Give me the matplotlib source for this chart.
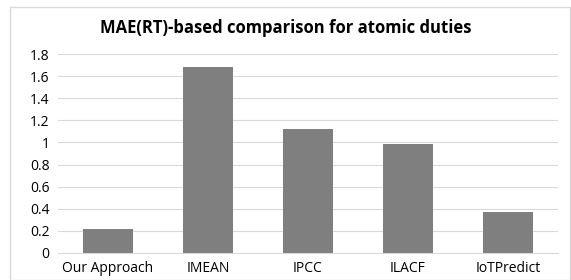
import matplotlib.pyplot as plt
from matplotlib.patches import Rectangle

methods = ['Our Approach', 'IMEAN', 'IPCC', 'ILACF', 'IoTPredict']
mae_rt = [0.22, 1.68, 1.12, 0.99, 0.37]
yticks = [0, 0.2, 0.4, 0.6, 0.8, 1, 1.2, 1.4, 1.6, 1.8]
ytick_labels = ['0', '0.2', '0.4', '0.6', '0.8', '1', '1.2', '1.4', '1.6', '1.8']

plt.rcParams['font.family'] = ['Open Sans', 'DejaVu Sans']

fig = plt.figure(figsize=(5.71, 2.8), dpi=100)
ax = fig.add_axes([58 / 571, 1 - 253 / 280, 500 / 571, 199 / 280])

x = range(len(methods))
ax.bar(x, mae_rt, width=0.5, color='#7f7f7f', zorder=3)
ax.set_xlim(-0.5, len(methods) - 0.5)
ax.set_ylim(0, 1.8)
ax.set_yticks(yticks)
ax.set_yticklabels(ytick_labels, fontsize=10)
ax.set_xticks(list(x))
ax.set_xticklabels(methods, fontsize=10)
ax.grid(axis='y', color='#d9d9d9', linewidth=0.8, zorder=0)
ax.tick_params(length=0, pad=6)
for s in ['top', 'right', 'left']:
    ax.spines[s].set_visible(False)
ax.spines['bottom'].set_color('#d9d9d9')

fig.text(0.5, 1 - 28 / 280, 'MAE(RT)-based comparison for atomic duties',
         ha='center', va='center', fontsize=12, fontweight='bold')

fig.patches.append(Rectangle((10 / 571, 0), 1 - 11 / 571, 1 - 7 / 280,
                             transform=fig.transFigure, fill=False,
                             edgecolor='#d9d9d9', linewidth=1))

fig.savefig('out.png', dpi=100)
